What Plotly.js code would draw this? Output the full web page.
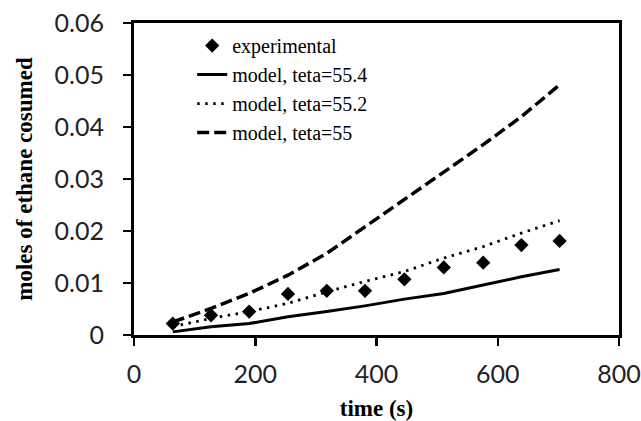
<!DOCTYPE html>
<html>
<head>
<meta charset="utf-8">
<script src="https://cdn.plot.ly/plotly-3.0.1.min.js"></script>
<style>html,body{margin:0;padding:0;background:#fff;}#chart{width:641px;height:421px;}</style>
</head>
<body>
<div id="chart"></div>
<script>
// time (s)
const time = [64, 127, 190, 254, 318, 381, 446, 511, 576, 639, 702];
// experimental moles of ethane consumed
const experimental = [0.0022, 0.0038, 0.0045, 0.0079, 0.0085, 0.0085, 0.0107, 0.0130, 0.0139, 0.0173, 0.0181];
// model curves
const model554 = [0.0006, 0.0016, 0.0022, 0.0035, 0.0045, 0.0056, 0.0069, 0.0080, 0.0096, 0.0112, 0.0126];
const model552 = [0.0016, 0.0032, 0.0045, 0.0061, 0.0083, 0.0103, 0.0122, 0.0148, 0.0170, 0.0196, 0.0220];
const model55  = [0.0025, 0.0051, 0.0080, 0.0115, 0.0157, 0.0208, 0.0260, 0.0314, 0.0366, 0.0420, 0.0481];
const names = ['experimental', 'model, teta=55.4', 'model, teta=55.2', 'model, teta=55'];
const xTicks = [0, 200, 400, 600, 800];
const yTicks = [0, 0.01, 0.02, 0.03, 0.04, 0.05, 0.06];
const yTickText = ['0', '0.01', '0.02', '0.03', '0.04', '0.05', '0.06'];

const traces = [
  {x: time, y: experimental, name: names[0], mode: 'markers', type: 'scatter',
   marker: {symbol: 'diamond', size: 11, color: '#000'}},
  {x: time, y: model554, name: names[1], mode: 'lines', type: 'scatter',
   line: {color: '#000', width: 3, dash: 'solid'}},
  {x: time, y: model552, name: names[2], mode: 'lines', type: 'scatter',
   line: {color: '#000', width: 2.8, dash: '2.5px,5.5px'}},
  {x: time, y: model55, name: names[3], mode: 'lines', type: 'scatter',
   line: {color: '#000', width: 3.5, dash: '12px,5px'}}
];

const tickFont = {family: 'Lato, "Open Sans", sans-serif', size: 25, color: '#222'};
const titleFont = {family: '"Liberation Serif", "Times New Roman", serif', size: 23, color: '#000', weight: 'bold'};

const layout = {
  width: 641, height: 421,
  margin: {l: 134, r: 22, t: 23, b: 86},
  paper_bgcolor: '#fff', plot_bgcolor: '#fff',
  showlegend: true,
  legend: {x: 0.12, y: 0.99, xanchor: 'left', yanchor: 'top',
           font: {family: 'Liberation Serif, Times New Roman, serif', size: 20, color: '#000'},
           bgcolor: 'rgba(0,0,0,0)', tracegroupgap: 0, itemwidth: 30},
  xaxis: {range: [0, 800], tickvals: xTicks, ticktext: xTicks.map(String),
          showgrid: false, zeroline: false, showline: true, linecolor: '#000', linewidth: 3,
          mirror: true, ticks: 'outside', ticklen: 8, tickwidth: 2.5, tickcolor: '#000',
          tickfont: tickFont, ticklabelstandoff: 7,
          title: {text: 'time (s)', font: titleFont, standoff: 15}},
  yaxis: {range: [0, 0.06], tickvals: yTicks, ticktext: yTickText,
          showgrid: false, zeroline: false, showline: true, linecolor: '#000', linewidth: 3,
          mirror: true, ticks: 'outside', ticklen: 8, tickwidth: 2.5, tickcolor: '#000',
          tickfont: tickFont, ticklabelstandoff: 14,
          title: {text: 'moles of ethane cosumed', font: titleFont, standoff: 16}}
};

Plotly.newPlot('chart', traces, layout, {displayModeBar: false, staticPlot: true});
</script>
</body>
</html>
